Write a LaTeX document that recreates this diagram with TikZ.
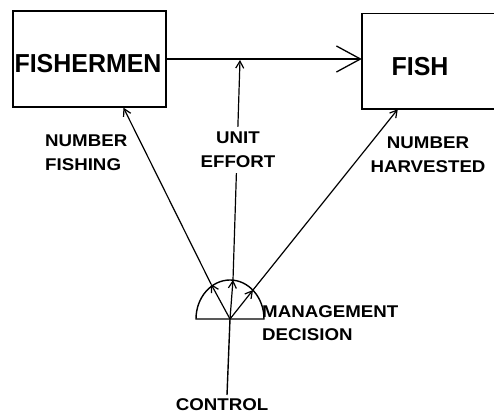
\documentclass[tikz,border=0pt]{standalone}
\usepackage{fontspec}
\setmainfont{Liberation Sans}
\newfontfamily\bigfont[FakeStretch=0.96]{Liberation Sans}
\newfontfamily\labfont[FakeStretch=1.1]{Liberation Sans}
\usetikzlibrary{arrows.meta,calc}
\tikzset{
  box/.style={draw, line width=1.4pt, inner sep=0pt},
  boxline/.style={line width=1.4pt},
  bigtext/.style={font=\bigfont\bfseries\fontsize{26}{26}\selectfont, inner sep=0pt},
  lab/.style={font=\labfont\bfseries\fontsize{17}{23.5}\selectfont, inner sep=0pt},
  conn/.style={line width=1.2pt, -{Straight Barb[length=7pt,width=8pt,line width=1.2pt]}},
  bigarrow/.style={line width=1.3pt, -{Straight Barb[length=24pt,width=26pt,line width=1.3pt]}},
  plain/.style={line width=1.4pt},
}
\begin{document}
\begin{tikzpicture}[x=1pt,y=-1pt]
\useasboundingbox (0,0) rectangle (494,414);
% boxes
\node[box, minimum width=153pt, minimum height=96pt] (fishermen) at (89.5,59) {};
\node[bigtext] (fishermentxt) at (88,64) {FISHERMEN};
\node[inner sep=0pt, minimum width=180pt, minimum height=95pt] (fish) at (452,61.5) {};
\draw[boxline] ([xshift=-48pt]fish.north east) -- (fish.north west) -- (fish.south west) -- ([xshift=-48pt]fish.south east);
\node[bigtext] (fishtxt) at (420,67) {FISH};
% main flow
\draw[bigarrow] (fishermen.east) -- (fishermen.east -| fish.west);
\coordinate (ue) at (240,60);
% decision semicircle
\coordinate (c) at (230,319);
\draw[plain] (c) ++(-34,0) arc[start angle=180, end angle=360, x radius=34, y radius=39] -- cycle;
\coordinate (pl) at (211,284);
\coordinate (pm) at (233,280);
\coordinate (pr) at (253,290);
\draw[conn] (c) -- (pl);
\draw[conn] (c) -- (pm);
\draw[conn] (c) -- (pr);
\draw[conn] (pl) -- ($(fishermen.south west)!0.72!(fishermen.south east)$);
\draw[conn] (pm) -- (ue);
\draw[conn] (pr) -- ([xshift=36pt]fish.south west);
% labels
\node[lab, anchor=north west, align=left] (numfish) at (45,135) {NUMBER\\FISHING};
\node[lab, anchor=north, align=center, fill=white, inner sep=5pt] (unit) at (238,127) {UNIT\\EFFORT};
\node[lab, anchor=north, align=center] (numharv) at (428,137) {NUMBER\\HARVESTED};
\node[lab, anchor=north west, align=left] (decision) at (262,305) {MANAGEMENT\\DECISION};
\node[lab, anchor=north] (control) at (222,398) {CONTROL};
\draw[plain] ([xshift=5pt,yshift=3pt]control.north) -- (c);
\end{tikzpicture}
\end{document}
